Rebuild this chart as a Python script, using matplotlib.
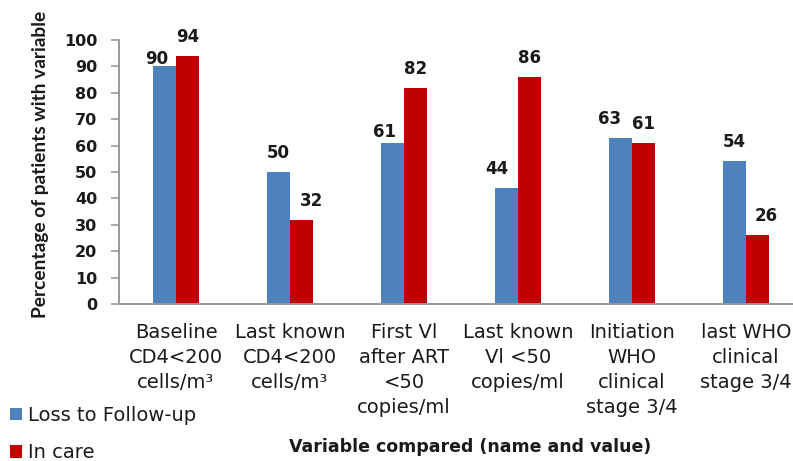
import matplotlib
matplotlib.use("Agg")
import matplotlib.pyplot as plt
import numpy as np

categories = ["Baseline\nCD4<200\ncells/m³", "Last known\nCD4<200\ncells/m³",
              "First Vl\nafter ART\n<50\ncopies/ml", "Last known\nVl <50\ncopies/ml",
              "Initiation\nWHO\nclinical\nstage 3/4", "last WHO\nclinical\nstage 3/4"]
loss = [90, 50, 61, 44, 63, 54]
incare = [94, 32, 82, 86, 61, 26]
yticks = list(range(0, 101, 10))

# label nudges (pixels) as in the reference layout
loss_nudge = [(-8, -12), (0, 0), (-8, -8), (-9, 0), (-11, 0), (0, 0)]
care_nudge = [(0, 0), (10, 0), (0, 0), (0, 0), (0, 0), (8, 0)]

plt.rcParams['font.family'] = ['DejaVu Sans']
TXT = '#1a1a1a'

W, H = 793, 461
fig = plt.figure(figsize=(W/100, H/100), dpi=100)
ax = fig.add_axes([119/W, 1-304/H, 684/W, (304-40)/H])

x = np.arange(len(categories))
bw = 0.206
b1 = ax.bar(x - bw/2, loss, bw, color='#4F81BD', label='Loss to Follow-up')
b2 = ax.bar(x + bw/2, incare, bw, color='#C00000', label='In care')
px2pt = 0.72
for bars, vals, nud in ((b1, loss, loss_nudge), (b2, incare, care_nudge)):
    for r, v, (dx, dy) in zip(bars, vals, nud):
        ax.annotate(str(v), (r.get_x() + r.get_width()/2, v),
                    xytext=(dx*px2pt, (14 + dy)*px2pt),
                    textcoords='offset points', ha='center', va='baseline',
                    fontsize=12, fontweight='bold', color=TXT)

ax.set_xlim(-0.5, 5.5)
ax.set_ylim(0, 100)
ax.set_yticks(yticks)
ax.set_yticklabels([str(t) for t in yticks], fontsize=11.5, fontweight='bold', color=TXT)
ax.set_xticks(x)
ax.set_xticklabels(categories, fontsize=14, va='top', linespacing=1.4, color=TXT)
ax.tick_params(axis='x', length=0, pad=14)
ax.tick_params(axis='y', length=5.5, color='#999999', width=1.2, pad=10)
for s in ['top', 'right']:
    ax.spines[s].set_visible(False)
for s in ['left', 'bottom']:
    ax.spines[s].set_color('#999999')
    ax.spines[s].set_linewidth(1.4)

fig.text(41/W, 1-164/H, 'Percentage of patients with variable', rotation=90,
         ha='center', va='center', fontsize=13.8, fontweight='bold', color=TXT,
         family=['Lato', 'DejaVu Sans'])
fig.text(470/W, 1-447/H, 'Variable compared (name and value)', ha='center', va='center',
         fontsize=12.5, fontweight='bold', color=TXT)

leg = fig.legend(handles=[b1, b2], loc='upper left', bbox_to_anchor=(10/W, 1-406/H),
                 frameon=False, fontsize=14, handlelength=0.6, handleheight=0.6,
                 handletextpad=0.3, labelspacing=0.95, borderpad=0, borderaxespad=0)
for t in leg.get_texts():
    t.set_color(TXT)

fig.savefig('out.png', dpi=100)
